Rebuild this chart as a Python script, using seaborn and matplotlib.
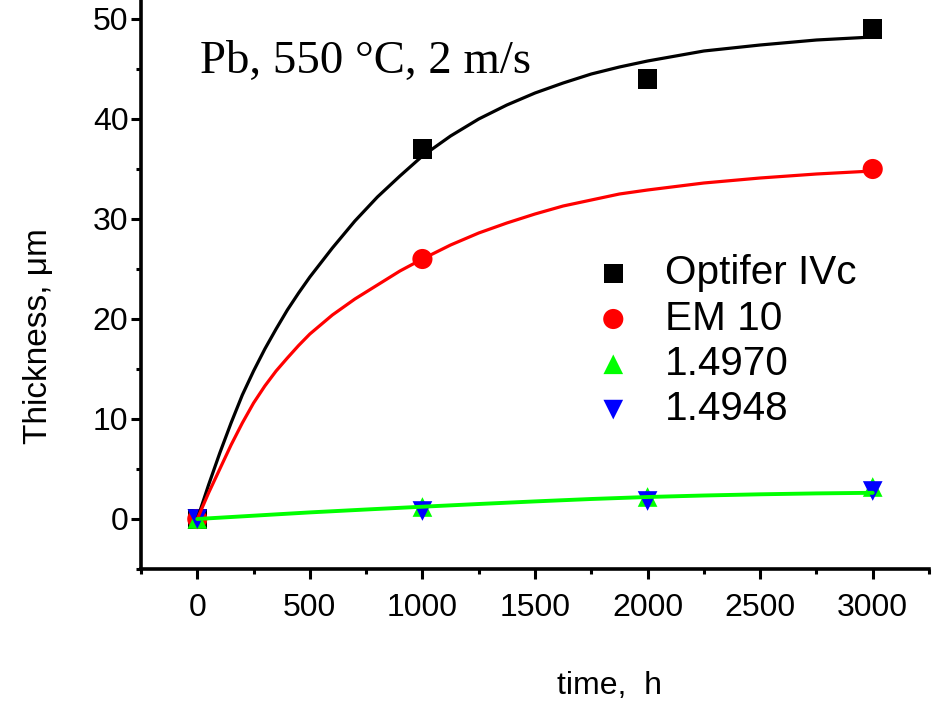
import pandas as pd
import matplotlib
matplotlib.use("Agg")
import matplotlib.pyplot as plt
from matplotlib.ticker import MultipleLocator
import seaborn as sns

# measured points
time_pts = [0, 1000, 2000, 3000]
optifer = [0, 37, 44, 49]
em10_time = [0, 1000, 3000]
em10 = [0, 26, 35]
steel_4970 = [0, 1.2, 2.2, 3.2]
steel_4948 = [0, 0.8, 1.8, 2.8]

# fitted curves
curve_time = [0, 50, 100, 150, 200, 250, 300, 350, 400, 450, 500, 600, 700,
              800, 900, 1000, 1125, 1250, 1375, 1500, 1625, 1750, 1875, 2000,
              2250, 2500, 2750, 3000]
curve_optifer = [0, 3.4, 6.6, 9.6, 12.4, 14.8, 17.0, 19.0, 20.9, 22.6, 24.2,
                 27.1, 29.8, 32.2, 34.3, 36.3, 38.3, 40.0, 41.4, 42.6, 43.6,
                 44.5, 45.2, 45.8, 46.8, 47.4, 47.9, 48.2]
curve_em10 = [0, 2.6, 5.0, 7.4, 9.6, 11.6, 13.3, 14.8, 16.1, 17.35, 18.5,
              20.4, 22.0, 23.4, 24.8, 26.0, 27.4, 28.6, 29.6, 30.5, 31.3,
              31.9, 32.5, 32.9, 33.6, 34.1, 34.5, 34.8]
steel_curve_time = [0, 250, 500, 750, 1000, 1250, 1500, 1750, 2000, 2250,
                    2500, 2750, 3000]
curve_steel = [0, 0.33, 0.66, 0.95, 1.23, 1.5, 1.76, 2.0, 2.2, 2.35, 2.47,
               2.56, 2.62]

sns.set_style("ticks")
plt.rcParams["font.family"] = ["Liberation Sans", "DejaVu Sans"]
plt.rcParams["text.color"] = "black"
plt.rcParams["axes.labelcolor"] = "black"
plt.rcParams["xtick.color"] = "black"
plt.rcParams["ytick.color"] = "black"
plt.rcParams["axes.edgecolor"] = "black"

fig = plt.figure(figsize=(9.35, 7.04), dpi=100)
ax = fig.add_axes([141 / 935, 135 / 704, 788 / 935, 569 / 704])

# markers
sns.scatterplot(x=time_pts, y=optifer, ax=ax, marker="s", s=190, color="black",
                edgecolor="none", label="Optifer IVc", zorder=3)
sns.scatterplot(x=em10_time, y=em10, ax=ax, marker="o", s=210, color="red",
                edgecolor="none", label="EM 10", zorder=3)
sns.scatterplot(x=time_pts, y=steel_4970, ax=ax, marker="^", s=200, color="#00ff00",
                edgecolor="none", label="1.4970", zorder=3)
sns.scatterplot(x=time_pts, y=steel_4948, ax=ax, marker="v", s=200, color="blue",
                edgecolor="none", label="1.4948", zorder=3)

# curves
sns.lineplot(x=curve_time, y=curve_optifer, ax=ax, color="black", lw=2.3, zorder=4)
sns.lineplot(x=curve_time, y=curve_em10, ax=ax, color="red", lw=2.3, zorder=4)
sns.lineplot(x=steel_curve_time, y=curve_steel, ax=ax, color="#00ff00", lw=2.8, zorder=4)

ax.set_xlim(-250, 3250)
ax.set_ylim(-5, 51.9)
ax.xaxis.set_major_locator(MultipleLocator(500))
ax.xaxis.set_minor_locator(MultipleLocator(250))
ax.yaxis.set_major_locator(MultipleLocator(10))
ax.yaxis.set_minor_locator(MultipleLocator(5))

sns.despine(ax=ax)
for side in ["left", "bottom"]:
    ax.spines[side].set_linewidth(2.6)
ax.tick_params(axis="both", which="major", length=7, width=2.2, labelsize=23)
ax.tick_params(axis="both", which="minor", length=3.5, width=2.2)
ax.tick_params(axis="x", which="major", pad=10)
ax.tick_params(axis="y", which="major", pad=2)

ax.set_xlabel("time,  h", fontsize=23)
ax.set_ylabel("Thickness, μm", fontsize=24)
ax.xaxis.set_label_coords(0.595, -0.18)
ax.yaxis.set_label_coords(-0.11, 0.41)

ax.text(0.075, 0.872, "Pb, 550 °C, 2 m/s", transform=ax.transAxes,
        fontsize=33.7, family=["Liberation Serif", "DejaVu Serif"], va="baseline")

ax.legend(loc="upper left", bbox_to_anchor=(0.5736, 0.553), frameon=False,
          fontsize=29.2, handlelength=1.0, handletextpad=0.78, labelspacing=0.18,
          borderaxespad=0, borderpad=0)

plt.savefig("out.png", dpi=100)
